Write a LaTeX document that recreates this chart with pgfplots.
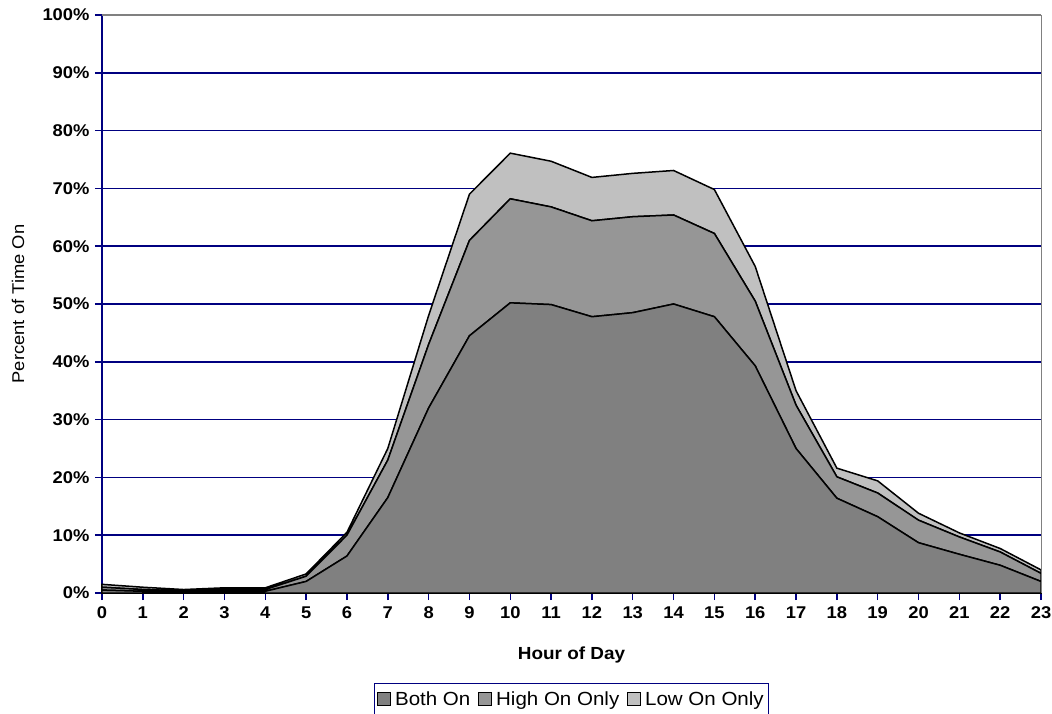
\documentclass[border=0pt]{standalone}
\usepackage{fontspec}
\setmainfont{Liberation Sans}[FakeStretch=1.08]
\usepackage{pgfplots}
\usepackage{pgfplotstable}
\pgfplotsset{compat=1.18}
\definecolor{navy}{HTML}{000080}
\definecolor{bothc}{HTML}{808080}
\definecolor{highc}{HTML}{969696}
\definecolor{lowc}{HTML}{C0C0C0}
\pgfplotstableread{
hour both high low
0 0.5 0.5 0.5
1 0.3 0.3 0.4
2 0.2 0.2 0.2
3 0.3 0.3 0.3
4 0.3 0.3 0.3
5 2.0 0.9 0.4
6 6.4 3.6 0.5
7 16.5 6.5 2.0
8 32.0 11.0 5.0
9 44.5 16.5 8.0
10 50.2 18.0 7.9
11 49.9 16.9 7.9
12 47.8 16.6 7.5
13 48.5 16.6 7.5
14 50.0 15.4 7.7
15 47.8 14.4 7.6
16 39.3 11.2 6.0
17 25.0 7.5 2.5
18 16.4 3.7 1.5
19 13.2 4.1 2.1
20 8.7 3.9 1.2
21 6.7 3.0 0.7
22 4.8 2.3 0.6
23 2.0 1.4 0.6
}\datatable
\begin{document}
\begin{tikzpicture}
\begin{axis}[
  name=main,
  scale only axis,
  width=939pt, height=578pt,
  xmin=0, xmax=23, ymin=0, ymax=100,
  stack plots=y,
  axis x line*=bottom, axis y line*=left,
  axis line style={navy, line width=1.5pt},
  tick style={navy, line width=1.5pt},
  tick align=outside,
  major tick length=7pt,
  xtick={0,...,23},
  xticklabels={0,1,2,3,4,5,6,7,8,9,10,11,12,13,14,15,16,17,18,19,20,21,22,23},
  ytick={0,10,...,100},
  yticklabels={0\%,10\%,20\%,30\%,40\%,50\%,60\%,70\%,80\%,90\%,100\%},
  ymajorgrids,
  grid style={navy, line width=1.5pt},
  tick label style={font=\fontsize{17}{19}\selectfont\bfseries},
  xticklabel style={yshift=-3pt},
  yticklabel style={xshift=-2pt},
  xlabel={Hour of Day},
  ylabel={Percent of Time On},
  xlabel style={font=\fontsize{17.5}{19}\selectfont\bfseries, at={(axis description cs:0.5,-0.107)}, anchor=center},
  ylabel style={font=\fontsize{17}{19}\selectfont, at={(axis description cs:-0.0895,0.5)}, anchor=center},
  legend columns=-1,
  legend style={at={(axis description cs:0.5,-0.155)}, anchor=north, draw=navy, line width=1.3pt,
    font=\fontsize{19}{21}\selectfont, inner xsep=3pt, inner ysep=6pt, column sep=2pt,
    /tikz/every even column/.append style={column sep=6pt}},
  legend image code/.code={\draw[#1, draw=black, line width=0.8pt] (0pt,-6.5pt) rectangle (13pt,6.5pt);},
  every axis plot/.append style={draw=black, line width=1.5pt},
  after end axis/.code={\draw[gray, line width=1.6pt] (rel axis cs:0,1) -- (rel axis cs:1,1); \draw[gray, line width=0.8pt] (rel axis cs:1,1) -- (rel axis cs:1,0);},
  clip=false,
]
\addplot[fill=bothc] table[x=hour, y=both] {\datatable} \closedcycle;
\addplot[fill=highc] table[x=hour, y=high] {\datatable} \closedcycle;
\addplot[fill=lowc] table[x=hour, y=low] {\datatable} \closedcycle;
\legend{Both On, High On Only, Low On Only}
\node[text=white, font=\fontsize{18}{20}\selectfont\bfseries] at (axis cs:12.93,68.5) {Low On Only};
\node[text=white, font=\fontsize{18}{20}\selectfont\bfseries] at (axis cs:11.46,57.1) {High On Only};
\node[text=white, font=\fontsize{18}{20}\selectfont\bfseries] at (axis cs:11.46,24.4) {Both On};
\end{axis}
\pgfresetboundingbox
\path ([shift={(-102pt,-120pt)}]main.south west) rectangle ([shift={(11pt,15pt)}]main.north east);
\end{tikzpicture}
\end{document}
